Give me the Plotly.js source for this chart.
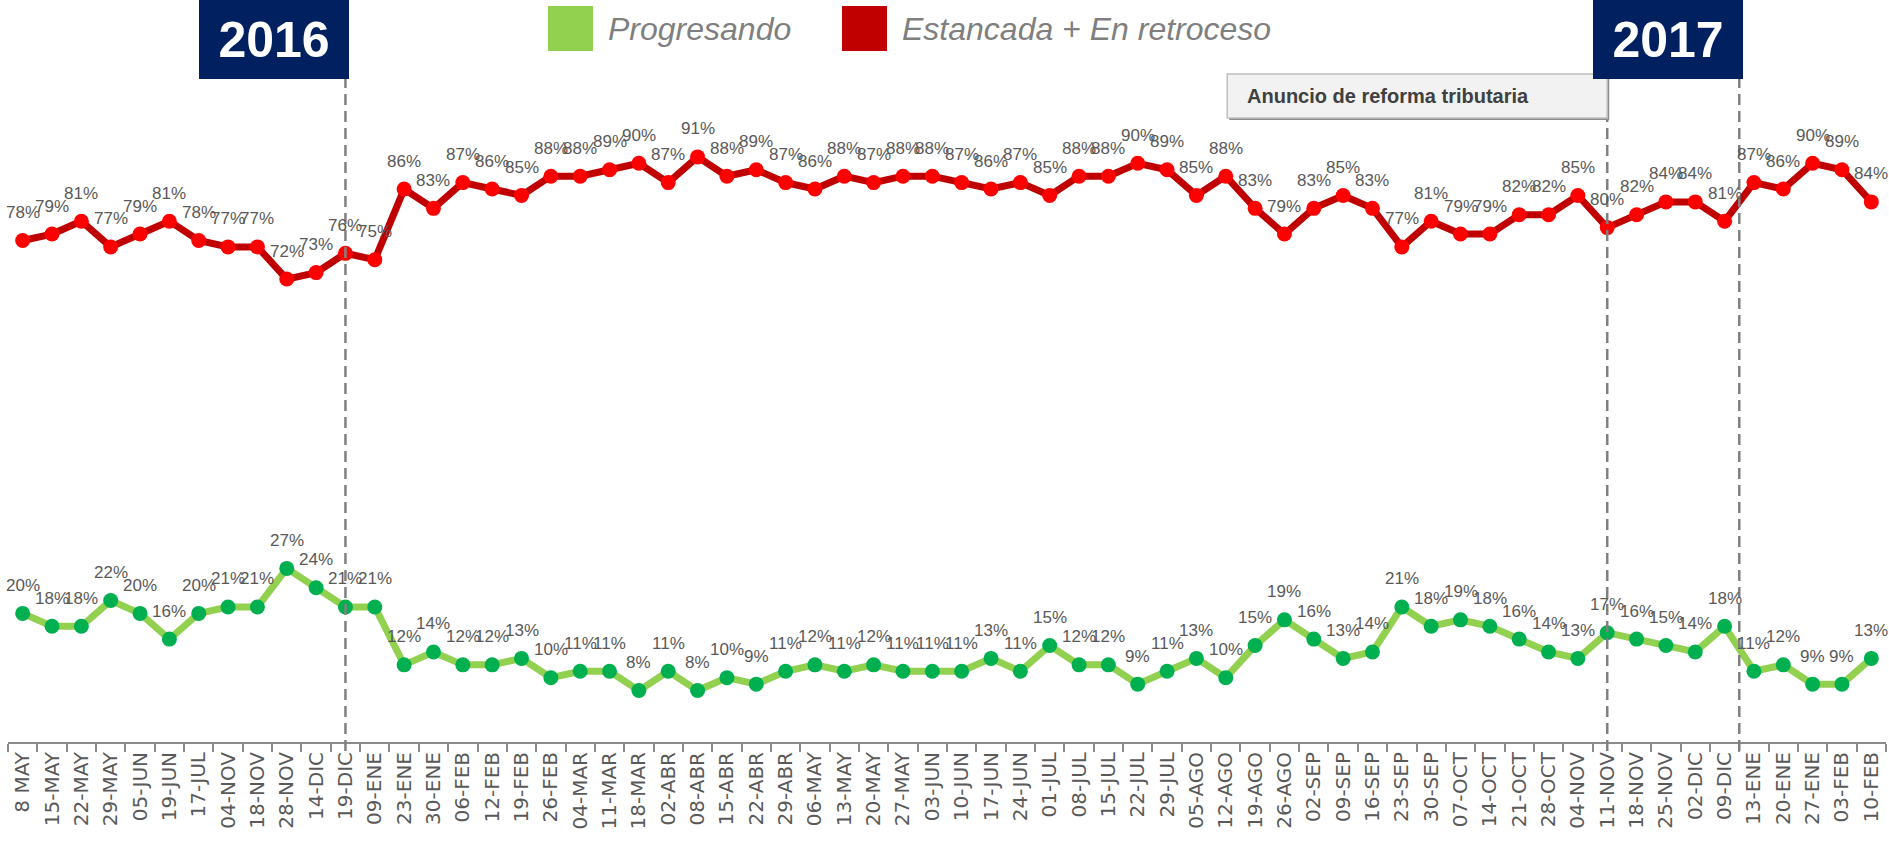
<!DOCTYPE html>
<html>
<head>
<meta charset="utf-8">
<script src="https://cdn.plot.ly/plotly-3.0.1.min.js"></script>
<style>
  html, body { margin: 0; padding: 0; background: #fff; }
  #chart { width: 1889px; height: 853px; }
</style>
</head>
<body>
<div id="chart"></div>
<script>
// Weekly survey: share of people who see the economy progressing vs stalled/retreating.

const fechas = [
  "8 MAY", "15-MAY", "22-MAY", "29-MAY", "05-JUN", "19-JUN", "17-JUL", "04-NOV", "18-NOV", "28-NOV",
  "14-DIC", "19-DIC", "09-ENE", "23-ENE", "30-ENE", "06-FEB", "12-FEB", "19-FEB", "26-FEB", "04-MAR",
  "11-MAR", "18-MAR", "02-ABR", "08-ABR", "15-ABR", "22-ABR", "29-ABR", "06-MAY", "13-MAY", "20-MAY",
  "27-MAY", "03-JUN", "10-JUN", "17-JUN", "24-JUN", "01-JUL", "08-JUL", "15-JUL", "22-JUL", "29-JUL",
  "05-AGO", "12-AGO", "19-AGO", "26-AGO", "02-SEP", "09-SEP", "16-SEP", "23-SEP", "30-SEP", "07-OCT",
  "14-OCT", "21-OCT", "28-OCT", "04-NOV", "11-NOV", "18-NOV", "25-NOV", "02-DIC", "09-DIC", "13-ENE",
  "20-ENE", "27-ENE", "03-FEB", "10-FEB"
];

const estancada = [
  78, 79, 81, 77, 79, 81, 78, 77, 77, 72,
  73, 76, 75, 86, 83, 87, 86, 85, 88, 88,
  89, 90, 87, 91, 88, 89, 87, 86, 88, 87,
  88, 88, 87, 86, 87, 85, 88, 88, 90, 89,
  85, 88, 83, 79, 83, 85, 83, 77, 81, 79,
  79, 82, 82, 85, 80, 82, 84, 84, 81, 87,
  86, 90, 89, 84
];

const progresando = [
  20, 18, 18, 22, 20, 16, 20, 21, 21, 27,
  24, 21, 21, 12, 14, 12, 12, 13, 10, 11,
  11, 8, 11, 8, 10, 9, 11, 12, 11, 12,
  11, 11, 11, 13, 11, 15, 12, 12, 9, 11,
  13, 10, 15, 19, 16, 13, 14, 21, 18, 19,
  18, 16, 14, 13, 17, 16, 15, 14, 18, 11,
  12, 9, 9, 13
];

const nombres = ["Progresando", "Estancada + En retroceso"];
const anios = ["2016", "2017"];
const anuncio = "Anuncio de reforma tributaria";

// page geometry (px)
const W = 1889, H = 853, ML = 8, MR = 3, MT = 0, MB = 111;
const px = (x) => (x - ML) / (W - ML - MR);
const py = (y) => 1 - (y - MT) / (H - MT - MB);

const xs = fechas.map((_, i) => i);
const iDic = fechas.indexOf("19-DIC");
const iNov = fechas.lastIndexOf("11-NOV");
const iEne = fechas.indexOf("09-DIC") + 0.5; // between 09-DIC and 13-ENE

const GRIS = "#595959";

const traces = [
  { x: xs, y: estancada, mode: "lines+markers", name: nombres[1],
    line: { color: "#C00000", width: 7 },
    marker: { color: "#FF0000", size: 15 } },
  { x: xs, y: progresando, mode: "lines+markers", name: nombres[0],
    line: { color: "#92D050", width: 7 },
    marker: { color: "#00B050", size: 15 } },
];

function etiquetas(vals) {
  return vals.map((v, i) => ({
    x: i, y: v, text: v + "%", showarrow: false, yshift: 28,
    font: { family: "Liberation Sans, Arial, sans-serif", size: 17, color: GRIS },
  }));
}

const dash = { color: "#808080", width: 2.5, dash: "11px,6px" };
const topLinea = py(79);
const shapes = [iDic, iNov, iEne].map((x) => ({
  type: "line", xref: "x", yref: "paper", x0: x, x1: x, y0: -0.012, y1: topLinea, line: dash,
}));

// announcement box (shadow + face)
shapes.push({ type: "rect", xref: "x", xsizemode: "pixel", xanchor: iNov, x0: -378, x1: 2,
  yref: "paper", ysizemode: "pixel", yanchor: 1, y0: -120, y1: -76,
  fillcolor: "#8C8C8C", line: { width: 0 } });
shapes.push({ type: "rect", xref: "x", xsizemode: "pixel", xanchor: iNov, x0: -380, x1: 0,
  yref: "paper", ysizemode: "pixel", yanchor: 1, y0: -118, y1: -74,
  fillcolor: "#F2F2F2", line: { color: "#BFBFBF", width: 1.5 } });

// legend swatches
shapes.push({ type: "rect", xref: "paper", yref: "paper", x0: px(548), x1: px(593), y0: py(51), y1: py(6),
  fillcolor: "#92D050", line: { width: 0 } });
shapes.push({ type: "rect", xref: "paper", yref: "paper", x0: px(842), x1: px(887), y0: py(51), y1: py(6),
  fillcolor: "#C00000", line: { width: 0 } });

const legendFont = { family: "Liberation Sans, Arial, sans-serif", size: 32, color: "#7F7F7F" };
const yearBox = (x, t) => ({
  xref: "x", yref: "paper", x: x, y: 1, xanchor: "right", yanchor: "top", xshift: 4,
  text: "<b>" + t + "</b>", showarrow: false, width: 150, height: 79,
  bgcolor: "#002060", borderpad: 0, borderwidth: 0, valign: "middle",
  font: { family: "Liberation Sans, Arial, sans-serif", size: 50, color: "#FFFFFF" },
});

const annotations = [
  ...etiquetas(estancada),
  ...etiquetas(progresando),
  yearBox(iDic, anios[0]),
  yearBox(iEne, anios[1]),
  { xref: "paper", yref: "paper", x: px(606), y: py(29), xanchor: "left", yanchor: "middle",
    text: "<i>" + nombres[0] + "</i>", showarrow: false, font: legendFont },
  { xref: "paper", yref: "paper", x: px(900), y: py(29), xanchor: "left", yanchor: "middle",
    text: "<i>" + nombres[1] + "</i>", showarrow: false, font: legendFont },
  { xref: "x", yref: "paper", x: iNov, y: 1, xshift: -362, yshift: -96, xanchor: "left", yanchor: "middle",
    text: "<b>" + anuncio + "</b>", showarrow: false,
    font: { family: "Liberation Sans, Arial, sans-serif", size: 20, color: "#404040" } },
];

const layout = {
  width: W, height: H,
  paper_bgcolor: "#FFFFFF", plot_bgcolor: "#FFFFFF",
  margin: { l: ML, r: MR, t: MT, b: MB },
  showlegend: false,
  xaxis: {
    range: [-0.5, fechas.length - 0.5], tickmode: "array", tickvals: xs, ticktext: fechas,
    tickangle: -90, ticks: "", showgrid: false, zeroline: false,
    showline: true, linecolor: "#8C8C8C", linewidth: 2,
    tickfont: { family: "DejaVu Sans, sans-serif", size: 20, color: GRIS },
    minor: { tickmode: "linear", tick0: -0.5, dtick: 1, ticks: "outside", ticklen: 8,
             tickwidth: 2, tickcolor: "#8C8C8C", showgrid: false },
  },
  yaxis: { range: [0, 115.4], visible: false, showgrid: false, zeroline: false },
  shapes, annotations,
};

Plotly.newPlot("chart", traces, layout, { displayModeBar: false, staticPlot: true });
</script>
</body>
</html>
